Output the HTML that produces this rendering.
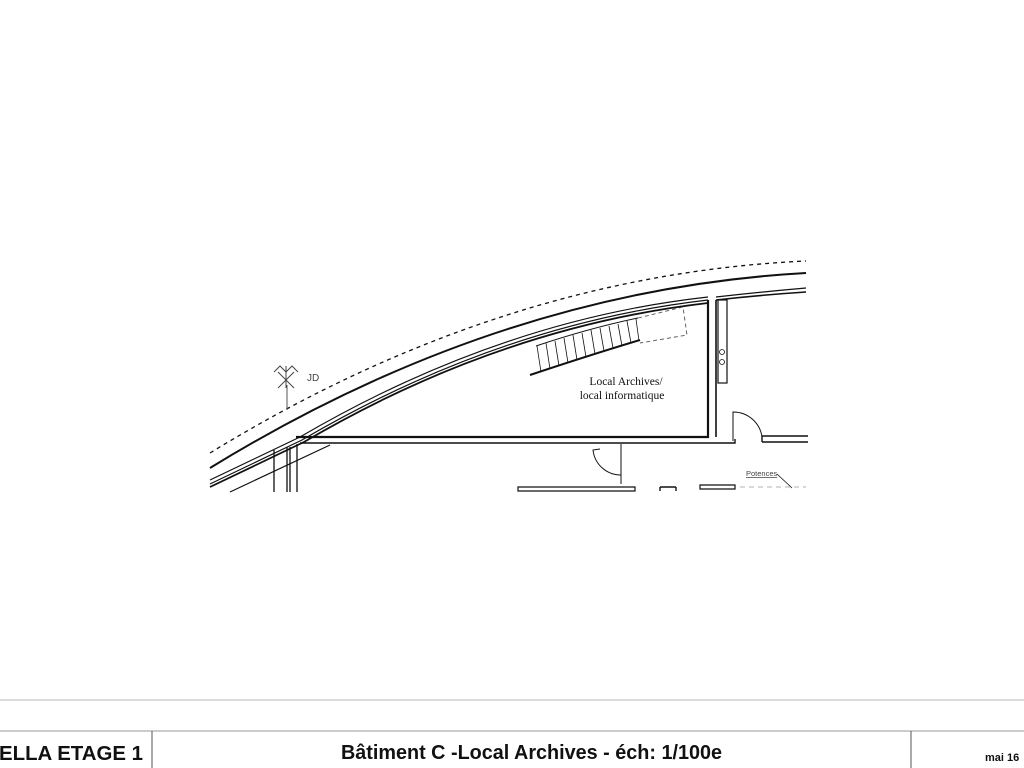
<!DOCTYPE html>
<html><head><meta charset="utf-8"><style>
html,body{margin:0;padding:0;background:#fff;}
body{width:1024px;height:768px;overflow:hidden;position:relative;font-family:"Liberation Sans",sans-serif;}
</style></head><body>
<svg width="1024" height="768" viewBox="0 0 1024 768" xmlns="http://www.w3.org/2000/svg" style="position:absolute;left:0;top:0">
<g fill="none" stroke="#111">
 <path d="M210,453 Q500,275 806,261" stroke-width="1.3" stroke-dasharray="4,4"/>
 <path d="M210,468 Q500,290 806,273" stroke-width="2"/>
 <path d="M210,480 L300,437 Q500,320 708,297" stroke-width="1.2"/>
 <path d="M210,484 L302,440 Q500,324 708,300" stroke-width="1.2"/>
 <path d="M210,487 L304,442 Q500,327 708,303" stroke-width="1.8"/>
 <path d="M230,492 L330,445" stroke-width="1.2"/>
 <path d="M716,297 Q760,292 806,288" stroke-width="1.2"/>
 <path d="M716,300 Q760,295 806,292" stroke-width="1.6"/>
 <path d="M296,437 L708,437 L708,300" stroke-width="2.2"/>
 <path d="M300,443 L735,443 L735,439" stroke-width="1.4"/>
 <path d="M716,437 L716,300" stroke-width="1.6"/>
 <rect x="718" y="300" width="9" height="83" stroke-width="1.2"/>
 <circle cx="722" cy="352" r="2.5" stroke-width="0.8"/>
 <circle cx="722" cy="362" r="2.5" stroke-width="0.8"/>
 <path d="M733,441 L733,412 A29,29 0 0 1 762,437" stroke-width="1"/>
 <path d="M762,436 L808,436 M762,442 L808,442 M762,436 L762,442" stroke-width="1.4"/>
 <path d="M621,444 L621,484 M621,475 A28,28 0 0 1 593,450 L600,449" stroke-width="1"/>
 <path d="M274,450 L274,492 M287,447 L287,492 M290,447 L290,492 M297,444 L297,492" stroke-width="1.3"/>
 <path d="M287,385 L287,410" stroke-width="1" stroke="#555"/>
 <path d="M274,372 L280,366 L286,372 L292,366 L298,372 M278,388 L294,372 M278,372 L294,388 M286,366 L286,388" stroke-width="1" stroke="#444"/>
 <path d="M530,375 Q590,355 640,340" stroke-width="2"/>
 <path d="M536,346 Q590,328 638,318" stroke-width="1"/>
 <path d="M638,318 L683,307 L687,335 L640,343" stroke-width="0.9" stroke-dasharray="4,3" stroke="#555"/>
 <g stroke-width="0.8">
  <path d="M537,346 L541,372 M546,343 L550,369 M555,341 L559,366 M564,338 L568,363 M573,335 L577,360 M582,333 L586,357 M591,330 L595,354 M600,328 L604,351 M609,326 L613,348 M618,324 L622,346 M627,321 L631,343 M636,319 L639,341"/>
 </g>
 <path d="M518,487 L635,487 L635,491 L518,491 Z" stroke-width="1.2"/>
 <path d="M660,487 L676,487 M660,487 L660,491 M676,487 L676,491" stroke-width="1.4"/>
 <path d="M700,485 L735,485 L735,489 L700,489 Z" stroke-width="1.2"/>
 <path d="M740,487 L806,487" stroke-width="0.8" stroke="#999" stroke-dasharray="5,4"/>
 <path d="M777,474 L792,488" stroke-width="0.8"/>
 <path d="M0,700 L1024,700" stroke="#bbb" stroke-width="1"/>
 <path d="M0,731 L1024,731" stroke="#999" stroke-width="1"/>
 <path d="M152,731 L152,768 M911,731 L911,768" stroke="#555" stroke-width="1"/>
</g>
<g font-family="Liberation Serif,serif" font-size="11.5" fill="#111" text-anchor="middle">
 <text x="626" y="385">Local Archives/</text>
 <text x="622" y="399">local informatique</text>
</g>
<text x="307" y="381" font-size="10" fill="#444">JD</text>
<text x="746" y="476" font-size="7.5" fill="#444" text-decoration="underline">Potences</text>
<g font-family="Liberation Sans,sans-serif" font-weight="bold" fill="#111">
 <text x="-1" y="760" font-size="20" textLength="144" lengthAdjust="spacingAndGlyphs">ELLA ETAGE 1</text>
 <text x="341" y="759" font-size="20" textLength="381" lengthAdjust="spacingAndGlyphs">Bâtiment C -Local Archives  - éch: 1/100e</text>
 <text x="985" y="761" font-size="11">mai 16</text>
</g>
</svg>
</body></html>
